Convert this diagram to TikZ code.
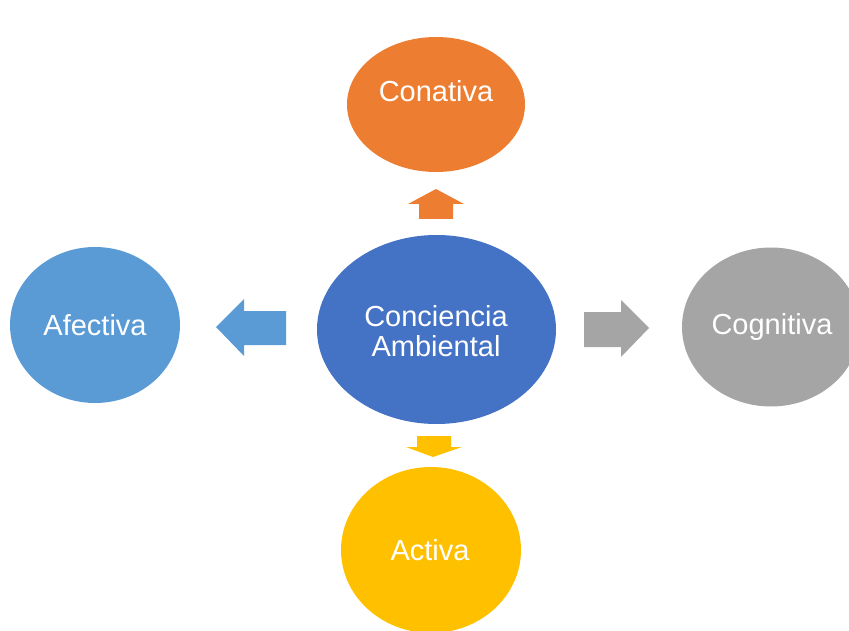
\documentclass[tikz,border=0pt]{standalone}
\usepackage{fontspec}
\setmainfont{Liberation Sans}
\usetikzlibrary{shapes.geometric}
\definecolor{cOrange}{HTML}{ED7D31}
\definecolor{cBlue}{HTML}{4472C4}
\definecolor{cLight}{HTML}{5B9BD5}
\definecolor{cGray}{HTML}{A5A5A5}
\definecolor{cGold}{HTML}{FFC000}
\begin{document}
\begin{tikzpicture}[x=1pt,y=-1pt,
  blob/.style={ellipse,draw=none,inner sep=0pt},
  lbl/.style={text=white,font=\fontsize{29}{30}\selectfont,align=center,inner sep=0pt}]
\useasboundingbox (0,0) rectangle (849,631);
\clip (0,0) rectangle (849,631);
% ellipses
\node[blob,fill=cBlue,minimum width=239pt,minimum height=189pt] (center) at (436.5,329.5) {};
\node[blob,fill=cOrange,minimum width=178pt,minimum height=135pt] (conativa) at (436,104.5) {};
\node[blob,fill=cLight,minimum width=170pt,minimum height=156pt] (afectiva) at (95,325) {};
\node[blob,fill=cGray,minimum width=178pt,minimum height=159pt] (cognitiva) at (771,327) {};
\node[blob,fill=cGold,minimum width=180pt,minimum height=166pt] (activa) at (431,550) {};
% labels
\node[lbl] (tcenter) at (436,331) {Conciencia\\Ambiental};
\node[lbl] (tconativa) at (436,91) {Conativa};
\node[lbl] (tafectiva) at (95,325) {Afectiva};
\node[lbl] (tcognitiva) at (772,327) {Cognitiva};
\node[lbl] (tactiva) at (430,550) {Activa};
% block arrows
\fill[cOrange] (419,219) -- (419,204) -- (408,204) -- (436,189) -- (464,204) -- (453,204) -- (453,219) -- cycle;
\fill[cLight] (286,311) -- (244,311) -- (244,299) -- (216,327) -- (244,356) -- (244,345) -- (286,345) -- cycle;
\fill[cGray] (584,312) -- (621,312) -- (621,300) -- (649,328) -- (621,357) -- (621,347) -- (584,347) -- cycle;
\fill[cGold] (417,436) -- (451,436) -- (451,447) -- (462,447) -- (433,457) -- (406,447) -- (417,447) -- cycle;
\end{tikzpicture}
\end{document}
